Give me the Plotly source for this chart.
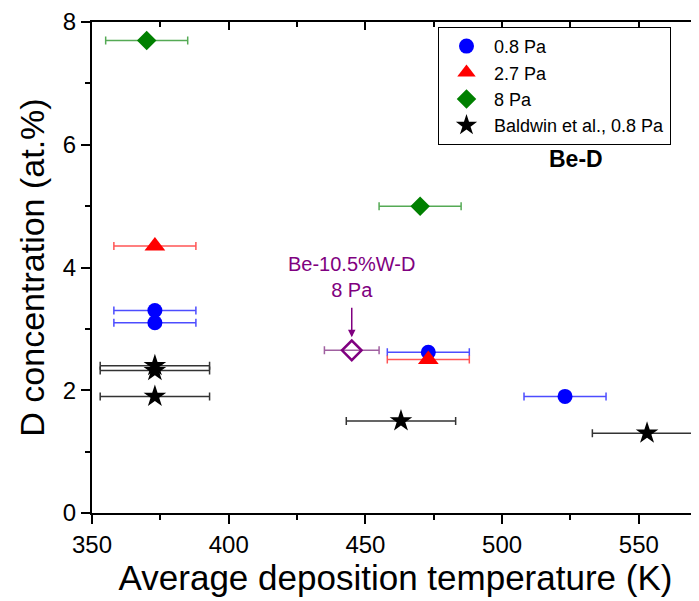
import plotly.graph_objects as go

# ---- data ----
p08_T = [373, 373, 473, 523]
p08_D = [3.3, 3.1, 2.62, 1.9]
p08_err = [15, 15, 15, 15]

p27_T = [373, 473]
p27_D = [4.35, 2.5]
p27_err = [15, 15]

p8_T = [370, 470]
p8_D = [7.7, 5.0]
p8_err = [15, 15]

bald_T = [373, 373, 373, 463, 553]
bald_D = [2.4, 2.32, 1.9, 1.5, 1.3]
bald_err = [20, 20, 20, 20, 20]

bew_T = [445]
bew_D = [2.65]
bew_err = [10]

x_range = [350, 572]
y_range = [0, 8]

FONT = "Arial, Liberation Sans, sans-serif"
PURPLE = "#800080"

# the page body has a default 8px margin; compensate so the plot lands
# where it is in the reference
OFF = 8

fig = go.Figure()

def add(T, D, err, name, symbol, color, ecolor, size, showlegend=True, line=None):
    marker = dict(symbol=symbol, color=color, size=size)
    if line:
        marker["line"] = line
    fig.add_trace(go.Scatter(
        x=T, y=D, mode="markers", name=name, showlegend=showlegend,
        marker=marker,
        error_x=dict(type="data", array=err, visible=True, color=ecolor,
                     thickness=1.5, width=4),
    ))

add(p08_T, p08_D, p08_err, "0.8 Pa", "circle", "#0000ff", "#4d4dff", 15)
add(p27_T, p27_D, p27_err, "2.7 Pa", "triangle-up", "#ff0000", "#ff5555", 18)
add(p8_T, p8_D, p8_err, "8 Pa", "diamond", "#008000", "#55aa55", 15)
add(bald_T, bald_D, bald_err, "Baldwin et al., 0.8 Pa", "star", "#000000", "#333333", 17)
add(bew_T, bew_D, bew_err, "Be-10.5%W-D 8 Pa", "diamond-open", PURPLE, "#a060a0", 15,
    showlegend=False, line=dict(color=PURPLE, width=2.5))

# dummy trace for the mirrored top/right axes with inside ticks
fig.add_trace(go.Scatter(x=[], y=[], xaxis="x2", yaxis="y2", showlegend=False,
                         hoverinfo="skip"))

axis_common = dict(showline=True, linecolor="black", linewidth=2, showgrid=False,
                   zeroline=False, tickcolor="black", tickwidth=2)

fig.update_layout(
    width=699 - OFF, height=601 - OFF,
    margin=dict(l=92 - OFF, r=0, t=17 - OFF, b=88),
    paper_bgcolor="white", plot_bgcolor="white",
    font=dict(family=FONT, color="black"),
    xaxis=dict(range=x_range, dtick=50, tick0=350, ticks="outside", ticklen=9,
               tickfont=dict(size=24, family=FONT),
               minor=dict(ticks="outside", ticklen=5, dtick=25, tick0=350,
                          tickcolor="black", tickwidth=2),
               title=dict(text="Average deposition temperature (K)",
                          font=dict(size=35, family=FONT), standoff=5),
               **axis_common),
    yaxis=dict(range=y_range, dtick=2, tick0=0, ticks="outside", ticklen=9,
               tickfont=dict(size=24, family=FONT), ticklabeloverflow="allow",
               minor=dict(ticks="outside", ticklen=5, dtick=1, tick0=0,
                          tickcolor="black", tickwidth=2),
               title=dict(text="D concentration (at.%)",
                          font=dict(size=34, family=FONT), standoff=8),
               **axis_common),
    xaxis2=dict(range=x_range, overlaying="x", side="top", anchor="y",
                dtick=50, tick0=350, ticks="inside", ticklen=8,
                showticklabels=False,
                minor=dict(ticks="inside", ticklen=5, dtick=25, tick0=350,
                           tickcolor="black", tickwidth=2),
                **axis_common),
    yaxis2=dict(range=y_range, overlaying="y", side="right", anchor="x",
                dtick=2, tick0=0, ticks="inside", ticklen=8,
                showticklabels=False,
                minor=dict(ticks="inside", ticklen=5, dtick=1, tick0=0,
                           tickcolor="black", tickwidth=2),
                **axis_common),
    legend=dict(x=0.57, y=0.99, xanchor="left", yanchor="top",
                bgcolor="white", bordercolor="black", borderwidth=1,
                font=dict(size=18, family=FONT), tracegroupgap=0,
                itemwidth=45),
)

# annotations
fig.add_annotation(x=bew_T[0], y=bew_D[0], xref="x", yref="y",
                   text="Be-10.5%W-D<br>8 Pa", showarrow=False,
                   font=dict(size=20, color=PURPLE, family=FONT),
                   yshift=73)
fig.add_annotation(x=bew_T[0], y=bew_D[0], xref="x", yref="y", text="",
                   showarrow=True, arrowhead=2, arrowsize=1, arrowwidth=1.5,
                   arrowcolor=PURPLE, ax=0, ay=-44, standoff=13)
fig.add_annotation(x=527, y=5.77, xref="x", yref="y", text="<b>Be-D</b>",
                   showarrow=False, font=dict(size=23, color="black", family=FONT))

fig.write_html("out.html")
